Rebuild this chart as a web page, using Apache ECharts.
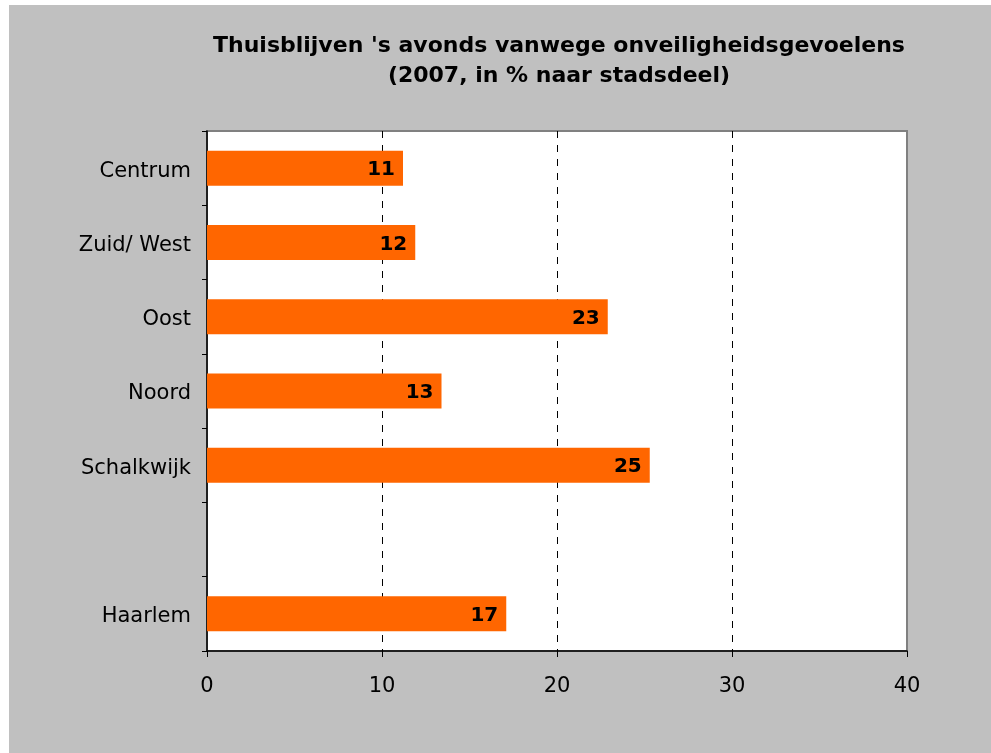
<!DOCTYPE html>
<html>
<head>
<meta charset="utf-8">
<script src="https://cdn.jsdelivr.net/npm/echarts@6/dist/echarts.min.js"></script>
<style>
  html, body { margin: 0; padding: 0; background: #ffffff; }
  #chart { width: 991px; height: 753px; }
</style>
</head>
<body>
<div id="chart"></div>
<script>
// Stadsdelen (blank row separates the districts from the city total)
const categories = ['Centrum', 'Zuid/ West', 'Oost', 'Noord', 'Schalkwijk', '', 'Haarlem'];
// Percentage staying home in the evening, 2007
const values = [11.2, 11.9, 22.9, 13.4, 25.3, '-', 17.1];
const xTicks = { min: 0, max: 40, interval: 10 };

const FONT = 'DejaVu Sans';
const chart = echarts.init(document.getElementById('chart'), null, { renderer: 'canvas' });

chart.setOption({
  backgroundColor: '#ffffff',
  animation: false,
  graphic: [{
    type: 'rect',
    z: -10,
    silent: true,
    shape: { x: 9, y: 5, width: 982, height: 748 },
    style: { fill: '#c0c0c0' }
  }],
  title: {
    text: "Thuisblijven 's avonds vanwege onveiligheidsgevoelens\n(2007, in % naar stadsdeel)",
    left: 554,
    top: 26,
    textAlign: 'center',
    textStyle: {
      fontFamily: FONT,
      fontSize: 22,
      fontWeight: 'bold',
      color: '#000000',
      lineHeight: 30,
      align: 'center'
    }
  },
  grid: {
    left: 207,
    right: 84,
    top: 131,
    bottom: 102,
    show: true,
    backgroundColor: '#ffffff',
    borderColor: '#808080',
    borderWidth: 2
  },
  xAxis: {
    type: 'value',
    min: xTicks.min,
    max: xTicks.max,
    interval: xTicks.interval,
    axisLine: { show: true, lineStyle: { color: '#000000', width: 1.5 } },
    axisTick: { show: true, length: 6, lineStyle: { color: '#000000' } },
    axisLabel: { fontFamily: FONT, fontSize: 21, color: '#000000', margin: 25 },
    splitLine: {
      show: true,
      showMinLine: false,
      showMaxLine: false,
      lineStyle: { color: '#000000', type: [7, 7], width: 1 }
    }
  },
  yAxis: {
    type: 'category',
    data: categories,
    inverse: true,
    axisLine: { show: true, lineStyle: { color: '#000000', width: 1.5 } },
    axisTick: { show: true, length: 5, interval: 0, alignWithLabel: false, lineStyle: { color: '#000000' } },
    axisLabel: {
      color: '#000000',
      margin: 16,
      interval: 0,
      formatter: v => v ? '{c|' + v + '}' : '',
      rich: {
        c: { fontFamily: FONT, fontSize: 21, color: '#000000', padding: [6, 0, 0, 0] }
      }
    },
    splitLine: { show: false }
  },
  series: [{
    type: 'bar',
    data: values,
    barWidth: 35,
    itemStyle: { color: '#ff6600' },
    label: {
      show: true,
      position: 'insideRight',
      distance: 8,
      offset: [0, 2],
      fontFamily: FONT,
      fontSize: 20,
      fontWeight: 'bold',
      color: '#000000',
      formatter: p => Math.round(p.value)
    }
  }]
});
</script>
</body>
</html>
